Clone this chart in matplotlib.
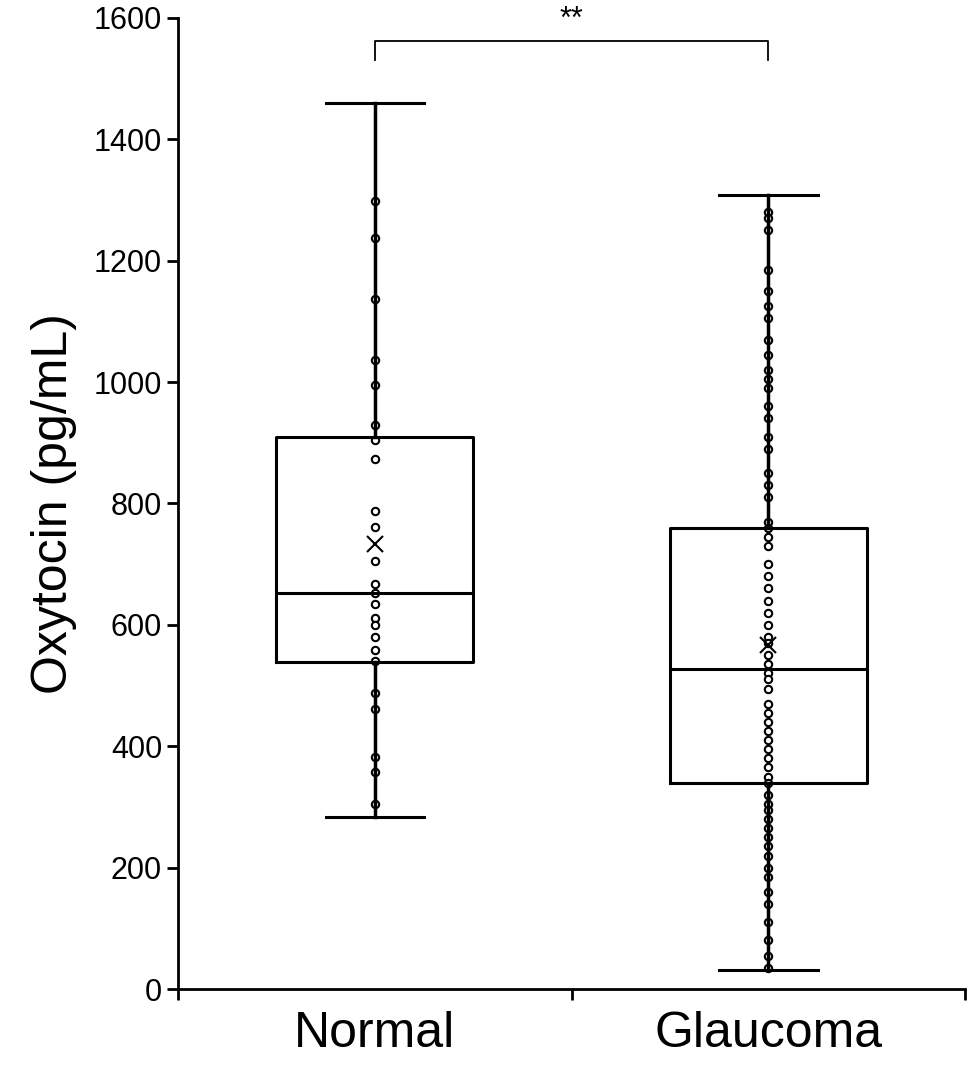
import matplotlib
matplotlib.use("Agg")
import matplotlib.pyplot as plt

categories = ["Normal", "Glaucoma"]
normal_stats = dict(q1=539, med=652, q3=909, whislo=283, whishi=1460, mean=733)
glaucoma_stats = dict(q1=339, med=527, q3=760, whislo=31, whishi=1308, mean=567)
normal_pts = [1298, 1237, 1137, 1037, 995, 930, 905, 873, 787, 762, 705, 668, 652, 635,
              612, 600, 580, 558, 540, 488, 462, 383, 358, 305]
glaucoma_pts = [1280, 1270, 1250, 1185, 1150, 1125, 1105, 1070, 1045, 1020, 1005, 990, 960,
                940, 910, 890, 850, 830, 810, 770, 760, 745, 730, 700, 680, 660, 640, 620,
                600, 580, 570, 550, 535, 520, 510, 495, 470, 455, 440, 425, 410, 395, 380,
                365, 350, 340, 320, 305, 295, 280, 265, 250, 235, 220, 200, 185, 160, 140,
                110, 80, 55, 35]
yticks = [0, 200, 400, 600, 800, 1000, 1200, 1400, 1600]

plt.rcParams["font.family"] = "Liberation Sans"
fig = plt.figure(figsize=(9.7, 10.66), dpi=100)
ax = fig.add_axes([0.1835, 0.0722, 0.8115, 0.911])

stats = []
for name, s in zip(categories, [normal_stats, glaucoma_stats]):
    d = dict(s); d["label"] = name; d["fliers"] = []
    stats.append(d)
ax.bxp(stats, positions=[1, 2], widths=0.5, showmeans=True, meanline=False,
       boxprops=dict(color="black", lw=2.2),
       whiskerprops=dict(color="black", lw=2.5),
       capprops=dict(color="black", lw=2.2),
       medianprops=dict(color="black", lw=2.2),
       meanprops=dict(marker="x", markeredgecolor="black", markersize=12, markeredgewidth=1.5),
       zorder=3)
for pos, pts in zip([1, 2], [normal_pts, glaucoma_pts]):
    ax.scatter([pos] * len(pts), pts, s=28, facecolors="white", edgecolors="black",
               linewidths=1.5, zorder=2)

ax.plot([1, 1, 2, 2], [1530, 1562, 1562, 1530], color="black", lw=1.3, clip_on=False)
ax.text(1.5, 1572, "**", ha="center", va="bottom", fontsize=22)

ax.set_xlim(0.5, 2.5)
ax.set_ylim(0, 1600)
ax.set_yticks(yticks)
ax.tick_params(axis="y", labelsize=22, width=2, length=8)
ax.set_xticks([0.5, 1.5, 2.5])
ax.set_xticklabels([])
ax.set_xticks([1, 2], minor=True)
ax.set_xticklabels(categories, minor=True, fontsize=36)
ax.tick_params(axis="x", which="major", width=2, length=8)
ax.tick_params(axis="x", which="minor", length=0, pad=16)
ax.set_ylabel("Oxytocin (pg/mL)", fontsize=36, labelpad=12)
for sp in ["top", "right"]:
    ax.spines[sp].set_visible(False)
for sp in ["left", "bottom"]:
    ax.spines[sp].set_linewidth(2)
fig.savefig("out.png", dpi=100)
